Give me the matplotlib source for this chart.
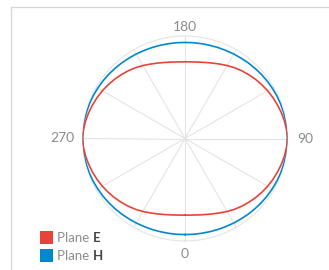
import numpy as np
import matplotlib
matplotlib.use("Agg")
import matplotlib.pyplot as plt
from matplotlib.lines import Line2D
from matplotlib.patches import Rectangle

# ---- data ----
angles_deg = list(range(0, 360, 5))
plane_e = [0.748, 0.750, 0.757, 0.768, 0.783, 0.801, 0.822, 0.843, 0.862, 0.880,
           0.898, 0.915, 0.931, 0.946, 0.960, 0.973, 0.985, 0.994, 1.000,
           0.994, 0.985, 0.973, 0.960, 0.946, 0.931, 0.915, 0.898, 0.880, 0.862,
           0.843, 0.822, 0.801, 0.783, 0.768, 0.757, 0.750,
           0.748, 0.750, 0.757, 0.768, 0.783, 0.801, 0.822, 0.843, 0.862, 0.880,
           0.898, 0.915, 0.931, 0.946, 0.960, 0.973, 0.985, 0.994, 1.000,
           0.994, 0.985, 0.973, 0.960, 0.946, 0.931, 0.915, 0.898, 0.880, 0.862,
           0.843, 0.822, 0.801, 0.783, 0.768, 0.757, 0.750]
plane_h = [0.937, 0.938, 0.939, 0.941, 0.944, 0.947, 0.952, 0.956, 0.962, 0.967,
           0.973, 0.978, 0.983, 0.988, 0.992, 0.995, 0.998, 1.000, 1.000,
           1.000, 0.998, 0.995, 0.992, 0.988, 0.983, 0.978, 0.973, 0.967, 0.962,
           0.956, 0.952, 0.947, 0.944, 0.941, 0.939, 0.938,
           0.937, 0.938, 0.939, 0.941, 0.944, 0.947, 0.952, 0.956, 0.962, 0.967,
           0.973, 0.978, 0.983, 0.988, 0.992, 0.995, 0.998, 1.000, 1.000,
           1.000, 0.998, 0.995, 0.992, 0.988, 0.983, 0.978, 0.973, 0.967, 0.962,
           0.956, 0.952, 0.947, 0.944, 0.941, 0.939, 0.938]
grid_angles = [0, 30, 60, 90, 120, 150, 180, 210, 240, 270, 300, 330]
label_angles = [0, 90, 180, 270]
label_texts = ["0", "90", "180", "270"]
series_names = [("Plane ", "E"), ("Plane ", "H")]
colors = ["#e8433a", "#0088cc"]

plt.rcParams['font.family'] = ['Lato', 'DejaVu Sans']

W, H = 329, 270
fig = plt.figure(figsize=(W / 100, H / 100), dpi=100)
fig.patch.set_facecolor("white")

cx, cy, R = 185, 138.5, 102.5
ax = fig.add_axes([(cx - R) / W, (H - cy - R) / H, 2 * R / W, 2 * R / H], projection="polar")
ax.set_theta_zero_location("S")
ax.set_theta_direction(1)

th = np.deg2rad(angles_deg + [angles_deg[0]])
ax.plot(th, plane_h + [plane_h[0]], color=colors[1], lw=1.2, zorder=3)
ax.plot(th, plane_e + [plane_e[0]], color=colors[0], lw=1.2, zorder=4)

ax.set_ylim(0, 1.0)
ax.set_rgrids([])
ax.set_thetagrids(grid_angles, labels=[""] * len(grid_angles))
ax.grid(True, color="#e4e4e4", lw=0.8)
ax.spines["polar"].set_color("#e4e4e4")
ax.spines["polar"].set_linewidth(0.8)
ax.set_facecolor("white")

# angle labels placed just outside the outer ring
label_r = {0: 1.13, 90: 1.17, 180: 1.085, 270: 1.20}
for a, s in zip(label_angles, label_texts):
    ax.text(np.deg2rad(a), label_r[a], s, ha="center", va="center", fontsize=10,
            color="#8c8c8c", clip_on=False)

# card border
fig.add_artist(Line2D([10.5 / W, 10.5 / W, 1.0], [0.0, 1 - 6.5 / H, 1 - 6.5 / H],
                      transform=fig.transFigure, color="#d6d6d6", lw=0.9))

# legend
renderer = fig.canvas.get_renderer()
for i, ((base, bold), col) in enumerate(zip(series_names, colors)):
    y_top = 231 + i * 18
    fig.add_artist(Rectangle((40 / W, 1 - (y_top + 12.5) / H), 12.5 / W, 12.5 / H,
                             transform=fig.transFigure, color=col, lw=0))
    yc = 1 - (y_top + 6.5) / H
    t1 = fig.text(57 / W, yc, base, fontsize=9.5, color="#8c8c8c",
                  va="center", ha="left")
    bb = t1.get_window_extent(renderer=renderer)
    fig.text(bb.x1 / W + 0.5 / W, yc, bold, fontsize=9.5, color="#444444", fontweight="bold",
             va="center", ha="left")

fig.savefig("out.png", dpi=100, facecolor="white")
